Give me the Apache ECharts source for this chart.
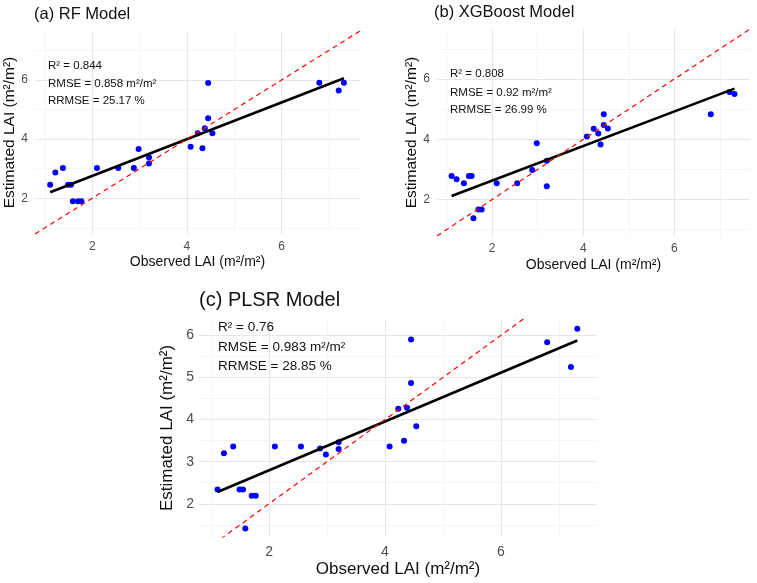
<!DOCTYPE html>
<html>
<head>
<meta charset="utf-8">
<title>LAI model comparison</title>
<script src="https://cdn.jsdelivr.net/npm/echarts@6.0.0/dist/echarts.min.js"></script>
<style>
  html, body { margin: 0; padding: 0; background: #fff; }
  #lai-chart { width: 757px; height: 583px; }
</style>
</head>
<body>
<div id="lai-chart"></div>
<script>
// observed LAI, same samples for every model
var observed = [1.11, 1.22, 1.38, 1.49, 1.55, 1.59, 1.70, 1.77, 2.10, 2.55, 2.88, 2.98,
                3.20, 3.20, 4.08, 4.23, 4.33, 4.38, 4.45, 4.45, 4.54, 6.80, 7.21, 7.32];

// estimated LAI per model
var rfPred   = [2.46, 2.87, 3.02, 2.46, 2.46, 1.90, 1.90, 1.90, 3.02, 3.02, 3.02, 3.67,
                3.38, 3.18, 3.74, 4.20, 3.69, 4.37, 4.71, 5.90, 4.20, 5.91, 5.65, 5.91];
var xgbPred  = [2.78, 2.67, 2.54, 2.78, 2.78, 1.38, 1.67, 1.67, 2.54, 2.54, 2.98, 3.87,
                3.29, 2.44, 4.09, 4.35, 4.19, 3.83, 4.47, 4.83, 4.36, 4.83, 5.57, 5.50];
var plsrPred = [2.34, 3.20, 3.36, 2.34, 2.34, 1.41, 2.19, 2.19, 3.36, 3.36, 3.31, 3.17,
                3.46, 3.30, 3.36, 4.26, 3.50, 4.28, 4.87, 5.90, 3.84, 5.84, 5.25, 6.16];

// lm fit ends (at min / max observed)
var fitX     = [1.11, 7.32];
var rfFit    = [2.20, 6.06];
var xgbFit   = [2.12, 5.68];
var plsrFit  = [2.28, 5.88];

// axis ranges and ticks
var xyRange     = [0.79, 7.66];
var plsrYRange  = [1.21, 6.39];
var majorTicks  = [2, 4, 6];
var minorTicks  = [1, 3, 5, 7];
var plsrYMajor  = [2, 3, 4, 5, 6];
var plsrYMinor  = [1.5, 2.5, 3.5, 4.5, 5.5];

var titles = ["(a) RF Model", "(b) XGBoost Model", "(c) PLSR Model"];
var statsRF   = ["R\u00b2 = 0.844", "RMSE = 0.858 m\u00b2/m\u00b2", "RRMSE = 25.17 %"];
var statsXGB  = ["R\u00b2 = 0.808", "RMSE = 0.92 m\u00b2/m\u00b2", "RRMSE = 26.99 %"];
var statsPLSR = ["R\u00b2 = 0.76", "RMSE = 0.983 m\u00b2/m\u00b2", "RRMSE = 28.85 %"];

var xName = "Observed LAI (m\u00b2/m\u00b2)";
var yName = "Estimated LAI (m\u00b2/m\u00b2)";
var FONT = '"Liberation Sans", Arial, sans-serif';

function zip(xs, ys) {
  return xs.map(function (x, i) { return [x, ys[i]]; });
}

// major axis: labels + thicker grid; minor axis: thin grid only
function axis(kind, grid, range, ticks, minor, o) {
  o = o || {};
  return {
    type: 'value',
    gridIndex: grid,
    min: range[0],
    max: range[1],
    name: minor ? '' : (kind === 'x' ? xName : yName),
    nameLocation: 'middle',
    nameGap: o.gap || 20,
    nameTextStyle: { fontFamily: FONT, fontSize: o.nameSize || 14, color: '#111' },
    axisLine: { show: false },
    axisTick: { show: false, customValues: ticks },
    axisLabel: {
      show: !minor,
      customValues: ticks,
      fontFamily: FONT,
      fontSize: o.labelSize || 12,
      color: '#4d4d4d',
      margin: o.margin || 7
    },
    splitLine: {
      show: true,
      lineStyle: { color: minor ? '#f2f2f2' : '#e6e6e6', width: minor ? 0.8 : 1.2 }
    }
  };
}

function panelSeries(xi, yi, preds, fit, idLine) {
  return [
    {
      type: 'scatter', xAxisIndex: xi, yAxisIndex: yi,
      data: zip(observed, preds),
      symbolSize: 6,
      itemStyle: { color: '#0000ff', opacity: 1 }
    },
    {
      type: 'line', xAxisIndex: xi, yAxisIndex: yi,
      data: zip(fitX, fit),
      showSymbol: false,
      lineStyle: { color: '#000', width: 2.6 }
    },
    {
      type: 'line', xAxisIndex: xi, yAxisIndex: yi,
      data: zip(idLine, idLine),
      showSymbol: false,
      clip: true,
      lineStyle: { color: '#ff0000', width: 1.2, type: [5, 4] }
    }
  ];
}

function statText(lines, left, tops, size) {
  return lines.map(function (t, i) {
    return {
      type: 'text', left: left, top: tops[i], z: 100,
      style: { text: t, fontFamily: FONT, fontSize: size, fill: '#111' }
    };
  });
}

var chart = echarts.init(document.getElementById('lai-chart'));

var option = {
  animation: false,
  backgroundColor: '#fff',
  title: [
    { text: titles[0], left: 34, top: 6, padding: 0,
      textStyle: { fontFamily: FONT, fontSize: 16.5, fontWeight: 'normal', color: '#111' } },
    { text: titles[1], left: 434, top: 4, padding: 0,
      textStyle: { fontFamily: FONT, fontSize: 16.5, fontWeight: 'normal', color: '#111' } },
    { text: titles[2], left: 199, top: 290, padding: 0,
      textStyle: { fontFamily: FONT, fontSize: 20, fontWeight: 'normal', color: '#111' } }
  ],
  grid: [
    { left: 35, top: 31, width: 325, height: 203 },
    { left: 437, top: 29, width: 313, height: 207 },
    { left: 199, top: 319, width: 398, height: 218 }
  ],
  xAxis: [
    axis('x', 0, xyRange, majorTicks, false, { gap: 21 }),
    axis('x', 0, xyRange, minorTicks, true),
    axis('x', 1, xyRange, majorTicks, false, { gap: 22 }),
    axis('x', 1, xyRange, minorTicks, true),
    axis('x', 2, xyRange, majorTicks, false, { gap: 24, nameSize: 17, labelSize: 14, margin: 8 }),
    axis('x', 2, xyRange, minorTicks, true)
  ],
  yAxis: [
    axis('y', 0, xyRange, majorTicks, false, { gap: 16, nameSize: 15.5 }),
    axis('y', 0, xyRange, minorTicks, true),
    axis('y', 1, xyRange, majorTicks, false, { gap: 16, nameSize: 15.5 }),
    axis('y', 1, xyRange, minorTicks, true),
    axis('y', 2, plsrYRange, plsrYMajor, false, { gap: 19, nameSize: 17, labelSize: 14, margin: 5 }),
    axis('y', 2, plsrYRange, plsrYMinor, true)
  ],
  series: []
      .concat(panelSeries(0, 0, rfPred, rfFit, xyRange))
      .concat(panelSeries(2, 2, xgbPred, xgbFit, xyRange))
      .concat(panelSeries(4, 4, plsrPred, plsrFit, xyRange)),
  graphic: []
      .concat(statText(statsRF, 48, [60, 78, 95], 11.5))
      .concat(statText(statsXGB, 450, [68, 87, 104], 11.5))
      .concat(statText(statsPLSR, 218, [320, 340, 359], 13.5))
};

chart.setOption(option);
</script>
</body>
</html>
